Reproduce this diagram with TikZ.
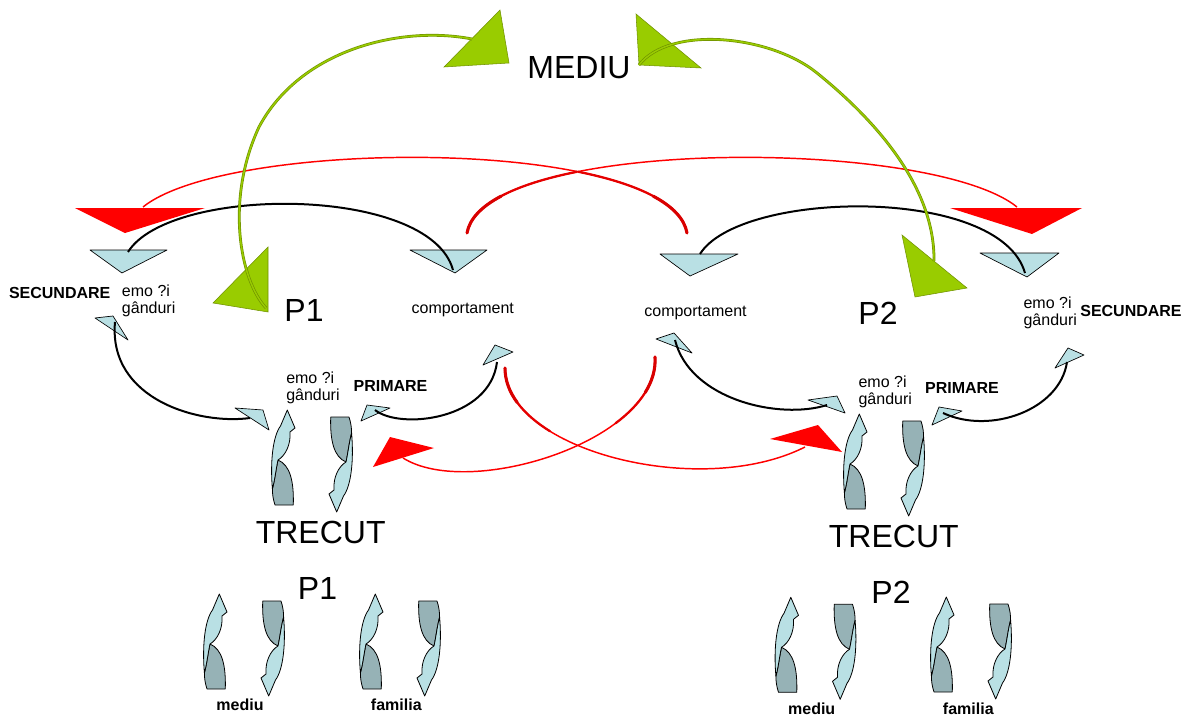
\documentclass[tikz,border=0pt]{standalone}
\usepackage{fontspec}
\setmainfont{Liberation Sans}

\definecolor{headblue}{RGB}{185,224,228}
\definecolor{headgrey}{RGB}{150,178,182}
\definecolor{leafgreen}{RGB}{153,204,0}
\definecolor{leafdark}{RGB}{112,145,0}

\tikzset{
    bigtext/.style={font=\fontsize{24}{28}\selectfont, inner sep=0},
    smalltext/.style={font=\fontsize{12}{13}\selectfont, inner sep=0},
    boldtext/.style={font=\fontsize{12}{13}\selectfont\bfseries, inner sep=0},
    emotext/.style={smalltext, align=left, anchor=west},
    bluehead/.style={fill=headblue, draw=black, line width=0.5pt, line join=round},
    greyhead/.style={fill=headgrey, draw=black, line width=0.6pt, line join=round},
    greenhead/.style={fill=leafgreen, draw=leafdark, line width=0.4pt},
    redhead/.style={fill=red},
    blackarc/.style={draw=black, line width=1.5pt},
    redarc/.style={draw=red, line width=1.1pt},
    redtail/.style={draw=red!90!black, line width=1.7pt, line cap=round},
    redend/.style={draw=red!85!black, line width=2.3pt, line cap=round},
    greenarc/.style={draw=leafdark, double=leafgreen, double distance=1.1pt, line width=0.5pt},
    swirl/.pic={
        \foreach \r in {0,180} {
            \begin{scope}[rotate=\r]
                \filldraw[greyhead] (-34,-1) .. controls (-22,4) and (-18,20) .. (-18.7,44)
                    -- (-37,44) .. controls (-39,38) and (-39.6,33) .. (-39.6,28)
                    .. controls (-37,18) and (-36,8) .. cycle;
                \filldraw[greyhead, fill=headblue] (-24.7,-51) -- (-17,-33) -- (-22,-29)
                    .. controls (-21,-16) and (-27,-5) .. (-34,-1)
                    .. controls (-36,8) and (-37,18) .. (-39.6,28)
                    .. controls (-42,0) and (-39,-25) .. (-31.5,-35) -- cycle;
            \end{scope}
        }
    }
}

\begin{document}
\begin{tikzpicture}[x=0.75pt, y=-0.75pt]
    \useasboundingbox (0,0) rectangle (1190,717);

    % labels
    \node[bigtext] (mediu) at (579,67.5) {MEDIU};
    \node[bigtext] (pA) at (304,310) {P1};
    \node[bigtext] (pB) at (878,313.5) {P2};
    \node[bigtext] (trecutA) at (320.7,532.5) {TRECUT};
    \node[bigtext] (trecutB) at (893.8,536) {TRECUT};
    \node[bigtext] (pastA) at (317.5,588) {P1};
    \node[bigtext] (pastB) at (891,592.5) {P2};

    \node[boldtext] (secA) at (59.7,292.5) {SECUNDARE};
    \node[boldtext] (secB) at (1131,311) {SECUNDARE};
    \node[boldtext] (primA) at (390.5,385.5) {PRIMARE};
    \node[boldtext] (primB) at (962,388.3) {PRIMARE};
    \node[smalltext] (compA) at (462.8,310) {comportament};
    \node[smalltext] (compB) at (695.5,312.5) {comportament};
    \node[emotext] (emoSecA) at (121.7,301) {emo ?i\\gânduri};
    \node[emotext] (emoPrimA) at (286,388) {emo ?i\\gânduri};
    \node[emotext] (emoSecB) at (1023.3,313) {emo ?i\\gânduri};
    \node[emotext] (emoPrimB) at (858.3,392) {emo ?i\\gânduri};

    \node[boldtext] (mediuA) at (240,705) {mediu};
    \node[boldtext] (familiaA) at (396.3,705) {familia};
    \node[boldtext] (mediuB) at (811.7,708.5) {mediu};
    \node[boldtext] (familiaB) at (968.3,708.5) {familia};

    % circular arrows
    \pic (swTrecutA) at (312,461) {swirl};
    \pic (swTrecutB) at (884,465) {swirl};
    \pic (swMediuA) at (244,645) {swirl};
    \pic (swFamiliaA) at (400,645) {swirl};
    \pic (swMediuB) at (815.5,648.3) {swirl};
    \pic (swFamiliaB) at (971,648) {swirl};

    % arrow heads
    \filldraw[greenhead] (444,67) -- (500,10) -- (509,63) -- cycle;
    \filldraw[greenhead] (636,14) -- (639,65) -- (701,68) -- cycle;
    \filldraw[greenhead] (213,303) -- (268,247) -- (268,312) -- cycle;
    \filldraw[greenhead] (902,235) -- (967,288) -- (915,297) -- cycle;

    \fill[redhead] (75,208) -- (205,208) -- (125,233) -- cycle;
    \fill[redhead] (950,208) -- (1082,208) -- (1032,234) -- cycle;
    \fill[redhead] (373,467) -- (390,437) -- (434,448) -- cycle;
    \fill[redhead] (770,439) -- (818,425) -- (842,452) -- cycle;

    \filldraw[bluehead] (90,250) -- (167,250) -- (122,273) -- cycle;
    \filldraw[bluehead] (410,250) -- (487,250) -- (455,273) -- cycle;
    \filldraw[bluehead] (660,254) -- (738,254) -- (690,276) -- cycle;
    \filldraw[bluehead] (980,253) -- (1059,253) -- (1027,277) -- cycle;

    \filldraw[bluehead] (95,318) -- (113,316) -- (128,340) -- cycle;
    \filldraw[bluehead] (235,408) -- (263,410) -- (269,430) -- cycle;
    \filldraw[bluehead] (483,365) -- (495,345) -- (513,352) -- cycle;
    \filldraw[bluehead] (361,421) -- (367,405) -- (390,408) -- cycle;
    \filldraw[bluehead] (656,339) -- (674,333) -- (692,353) -- cycle;
    \filldraw[bluehead] (808,400) -- (837,396) -- (845,413) -- cycle;
    \filldraw[bluehead] (1055,368) -- (1068,348) -- (1084,355) -- cycle;
    \filldraw[bluehead] (932,425) -- (939,407) -- (962,411) -- cycle;

    % connector ends
    \coordinate (greenA) at (266,308);
    \coordinate (greenMediuA) at (472,39);
    \coordinate (greenMediuB) at (639,65);
    \coordinate (greenB) at (934,261);
    \coordinate (secTopA) at (128,252);
    \coordinate (compTopA) at (453,270);
    \coordinate (compTopB) at (700,254);
    \coordinate (secTopB) at (1025,273);
    \coordinate (secLowA) at (115,322);
    \coordinate (trecutInA) at (250,418);
    \coordinate (compLowA) at (497,362);
    \coordinate (primInA) at (375,410);
    \coordinate (compLowB) at (675,340);
    \coordinate (trecutInB) at (827,405);
    \coordinate (secLowB) at (1067,362);
    \coordinate (primInB) at (943,413);
    \coordinate (redTopA) at (143,207);
    \coordinate (redTopB) at (1017,207);
    \coordinate (redCompA) at (467,233);
    \coordinate (redCompB) at (687,233);
    \coordinate (redLowCompA) at (505,368);
    \coordinate (redLowCompB) at (655,357);
    \coordinate (redLowA) at (403,458);
    \coordinate (redLowB) at (805,447);

    % red connectors, heavier towards the tail
    \draw[redarc] (redCompB) .. controls (670,137) and (230,137) .. (redTopA);
    \draw[redarc] (redCompA) .. controls (484,137) and (930,137) .. (redTopB);
    \draw[redarc] (redLowCompA) .. controls (505,450) and (700,500) .. (redLowB);
    \draw[redarc] (redLowCompB) .. controls (660,440) and (470,500) .. (redLowA);

    \draw[redtail] (redCompB) .. controls (681.9,204.2) and (638.7,184) .. (578.4,171.8);
    \draw[redtail] (redCompA) .. controls (472.1,204.2) and (515.8,184) .. (576.9,171.8);
    \draw[redtail] (redLowCompA) .. controls (505,392.6) and (522.6,414.3) .. (550,431.2);
    \draw[redtail] (redLowCompB) .. controls (656.5,381.9) and (640.5,404.7) .. (615.5,423.3);
    \draw[redend] (redCompB) .. controls (684.5,218.6) and (672.3,206.4) .. (653.3,196.2);
    \draw[redend] (redCompA) .. controls (469.6,218.6) and (481.8,206.4) .. (501,196.2);
    \draw[redend] (redLowCompA) .. controls (505,380.3) and (509.4,391.9) .. (517.2,402.5);
    \draw[redend] (redLowCompB) .. controls (655.8,369.5) and (652.1,381.4) .. (645.2,392.5);

    % black connectors
    \draw[blackarc] (secTopA) .. controls (170,185) and (430,185) .. (compTopA);
    \draw[blackarc] (compTopB) .. controls (740,190) and (1000,185) .. (secTopB);
    \draw[blackarc] (secLowA) .. controls (108,400) and (200,425) .. (trecutInA);
    \draw[blackarc] (compLowA) .. controls (490,420) and (400,430) .. (primInA);
    \draw[blackarc] (compLowB) .. controls (690,400) and (780,420) .. (trecutInB);
    \draw[blackarc] (secLowB) .. controls (1060,410) and (990,435) .. (primInB);

    % green connectors
    \draw[greenarc] (greenA) .. controls (240,280) and (225,200) .. (259,127)
        .. controls (300,50) and (400,25) .. (greenMediuA);
    \draw[greenarc] (greenMediuB) .. controls (670,25) and (770,35) .. (817,73)
        .. controls (864,111) and (935,180) .. (greenB);
\end{tikzpicture}
\end{document}
